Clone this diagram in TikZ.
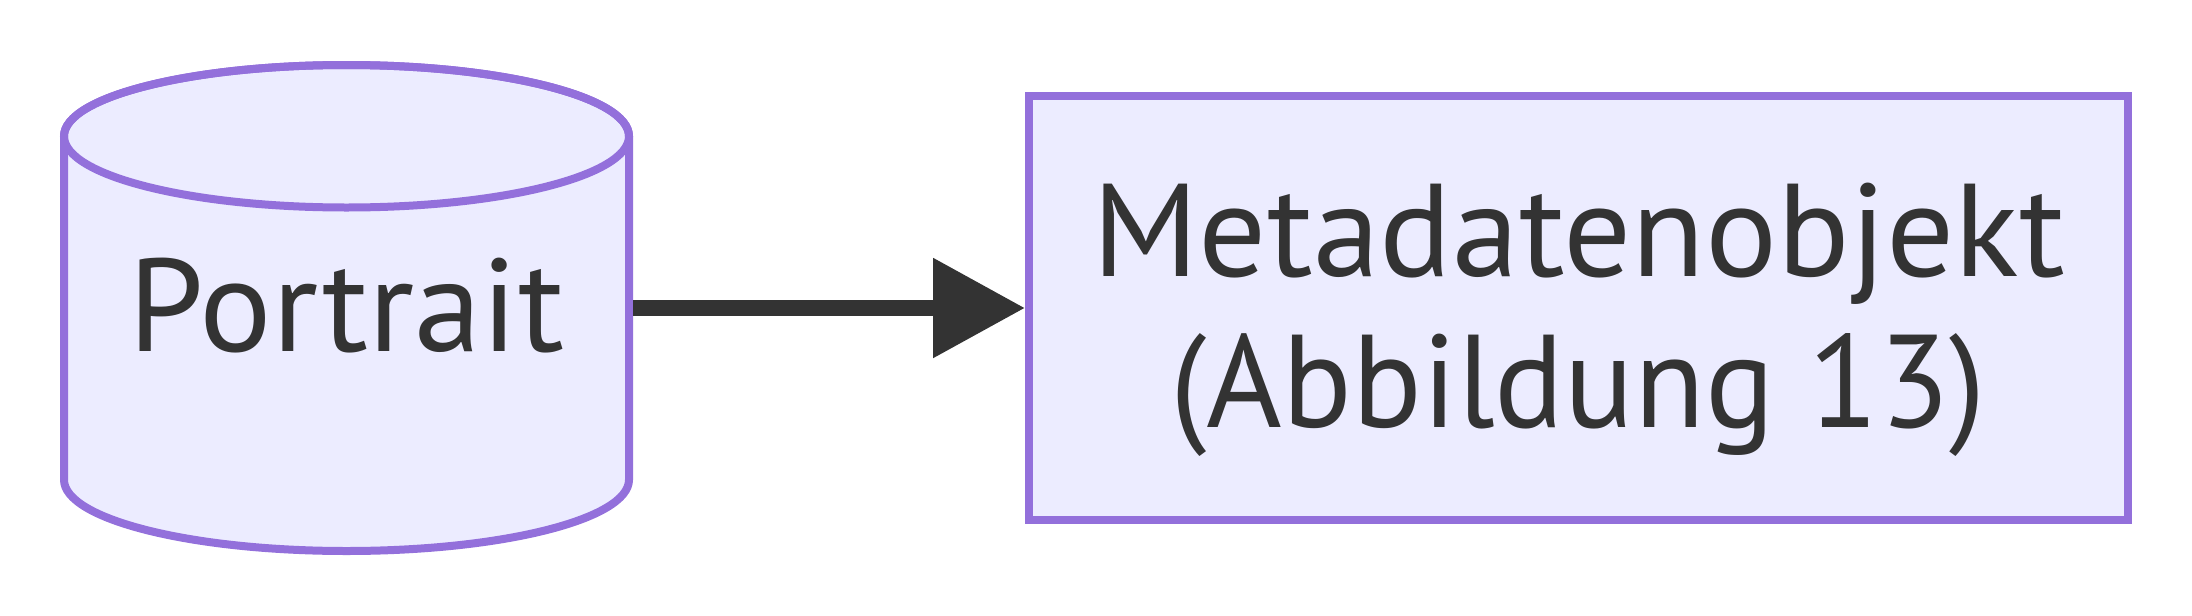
\documentclass[tikz,border=0pt]{standalone}
\usepackage{fontspec}
\usepackage{graphicx}
\setmainfont{PT Sans}
\usetikzlibrary{arrows.meta}

\definecolor{nodefill}{HTML}{ECECFF}
\definecolor{nodeline}{HTML}{9370DB}
\definecolor{textgrey}{HTML}{333333}

% set a line to the width it has in the picture
\newcommand{\fitline}[2]{\resizebox{#1}{\height}{#2}}

\tikzset{
  label/.style={text=textgrey, align=center, inner sep=0pt, outer sep=2pt,
    text depth=0pt, font=\fontsize{66}{75.85}\selectfont},
  box/.style={label, draw=nodeline, fill=nodefill, line width=4pt},
  link/.style={draw=textgrey, line width=8pt, -{Triangle[length=46pt,width=48pt]}},
}

\begin{document}
\begin{tikzpicture}[x=0.5pt,y=-0.5pt]
    \useasboundingbox (0,0) rectangle (2192,616);

    % database
    \filldraw[draw=nodeline, fill=nodefill, line width=4pt]
      (64,136.25) -- (64,479.75) arc[start angle=180, end angle=0, x radius=282.5, y radius=71.25]
      -- (629,136.25) arc[start angle=0, end angle=-180, x radius=282.5, y radius=71.25] -- cycle;
    \draw[nodeline, line width=4pt] (346.5,136.25) ellipse[x radius=282.5, y radius=71.25];
    \node[label, minimum width=282.5pt, minimum height=100pt, text height=43.7pt]
      (portrait) at (346.5,308) {\fitline{217.5pt}{Portrait}};

    % object
    \node[box, minimum width=549.5pt, minimum height=212pt, text height=119.7pt]
      (meta) at (1578.5,308)
      {\fitline{486pt}{Metadatenobjekt}\\\fitline{407.8pt}{(Abbildung 13)}};

    \draw[link] (portrait) -- (meta);
\end{tikzpicture}
\end{document}
